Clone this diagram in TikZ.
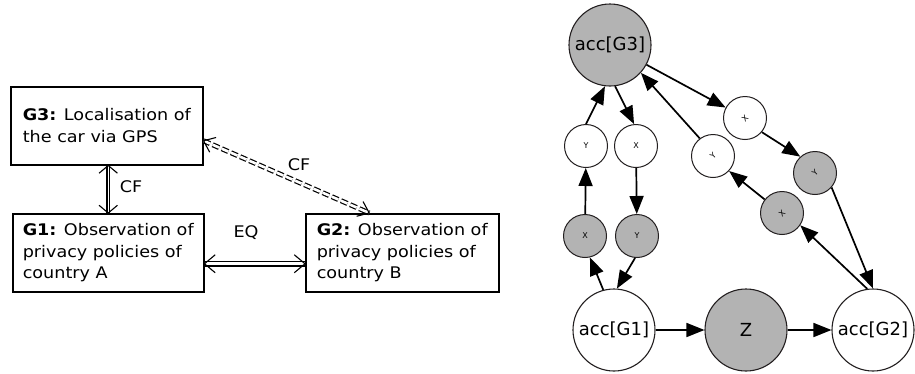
\documentclass[tikz,border=0pt]{standalone}
\usepackage{fontspec}
\setmainfont{DejaVu Sans}[FakeStretch=1.1]
\newfontfamily\rfont{DejaVu Sans}
\usetikzlibrary{arrows.meta,calc}
\definecolor{gfill}{HTML}{B3B3B3}
\definecolor{cedge}{HTML}{231F20}
\newcommand\chev[4]{\draw[line width=1.1pt] ($(#1)!#3!#4:(#2)$) -- (#1) -- ($(#1)!#3!-#4:(#2)$);}
\begin{document}
\begin{tikzpicture}[x=1pt,y=-1pt,
  gbox/.style={draw=black, line width=1.5pt, align=left, anchor=north west, minimum height=78pt, inner sep=0pt, font=\fontsize{16}{21.7}\selectfont},
  lab/.style={font=\fontsize{16}{19}\selectfont, inner sep=0pt},
  big/.style={circle, draw=cedge, line width=1.1pt, minimum size=82pt, inner sep=0pt, font=\rfont\fontsize{18}{20}\selectfont},
  small/.style={circle, draw=cedge, line width=1pt, minimum size=43pt, inner sep=0pt, font=\rfont\fontsize{8}{9}\selectfont},
  wf/.style={fill=white}, gf/.style={fill=gfill},
  arr/.style={line width=1.7pt, -{Triangle[length=18pt,width=14pt]}},
  dblA/.style={draw=black, line width=1.6pt, double=white, double distance=0.6pt},
  dblB/.style={draw=black, line width=1.4pt, double=white, double distance=3pt},
  dblC/.style={draw=black, line width=1.2pt, double=white, double distance=2.6pt, dash pattern=on 7pt off 3pt},
]
\fill[white] (0,0) rectangle (915,373);
\useasboundingbox (0,0) rectangle (915,373);

% left diagram
\node[gbox, minimum width=192pt] (g3) at (10,86) {\textbf{G3:} Localisation of\\the car via GPS};
\node[gbox, minimum width=191pt] (g1) at (12,213) {\textbf{G1:} Observation of\\privacy policies of\\country A};
\node[gbox, minimum width=193pt] (g2) at (305,213) {\textbf{G2:} Observation of\\privacy policies of\\country B};

\coordinate (v1) at (g3.south -| g1.north);
\coordinate (v2) at (g1.north);
\coordinate (e1) at ($(g1.east)+(0,11)$);
\coordinate (e2) at ($(g2.west)+(0,11)$);
\coordinate (d1) at ($(g3.east)+(0,15)$);
\coordinate (d2) at ($(g2.north)+(-33,0)$);

\draw[dblA] (v1) -- (v2);
\draw[dblB] (e1) -- (e2);
\draw[dblC] (d1) -- (d2);
\chev{v1}{v2}{12pt}{50}
\chev{v2}{v1}{12pt}{50}
\chev{e1}{e2}{14pt}{40}
\chev{e2}{e1}{14pt}{40}
\chev{d1}{d2}{13pt}{38}
\chev{d2}{d1}{13pt}{38}

\node[lab] (lcf1) at (131,187) {CF};
\node[lab] (leq) at (246,233) {EQ};
\node[lab] (lcf2) at (299,165) {CF};

% right diagram
\node[big,gf] (ag3) at (610,45) {acc[G3]};
\node[small,wf] (wy) at (586,146) {Y};
\node[small,wf] (wx) at (636,146) {X};
\node[small,wf] (wp) at (745,118) {\rotatebox[origin=c]{45}{X}};
\node[small,wf] (wr) at (713,156) {\rotatebox[origin=c]{45}{Y}};
\node[small,gf] (gr) at (815,173) {\rotatebox[origin=c]{45}{Y}};
\node[small,gf] (gp) at (782,213) {\rotatebox[origin=c]{45}{X}};
\node[small,gf] (gx) at (585,236) {X};
\node[small,gf] (gy) at (637,236) {Y};
\node[big,wf] (ag1) at (614,330) {acc[G1]};
\node[big,gf] (z) at (746,330) {Z};
\node[big,wf] (ag2) at (873,330) {acc[G2]};

\draw[arr] (ag1) -- (z);
\draw[arr] (z) -- (ag2);
\draw[arr] (ag3) -- (wp);
\draw[arr] (wp.-40) -- (gr.132);
\draw[arr] (gr.-41) -- (ag2.90);
\draw[arr] (ag2.98) -- (gp.-34);
\draw[arr] (gp.142) -- (wr.-43);
\draw[arr] (wr.127) -- (ag3.-42);
\draw[arr] (ag3.277) -- (wx.95);
\draw[arr] (wx) -- (gy);
\draw[arr] (gy.265) -- (ag1.86);
\draw[arr] (ag1.105) -- (gx.283);
\draw[arr] (gx) -- (wy);
\draw[arr] (wy.90) -- (ag3.263);
\end{tikzpicture}
\end{document}
